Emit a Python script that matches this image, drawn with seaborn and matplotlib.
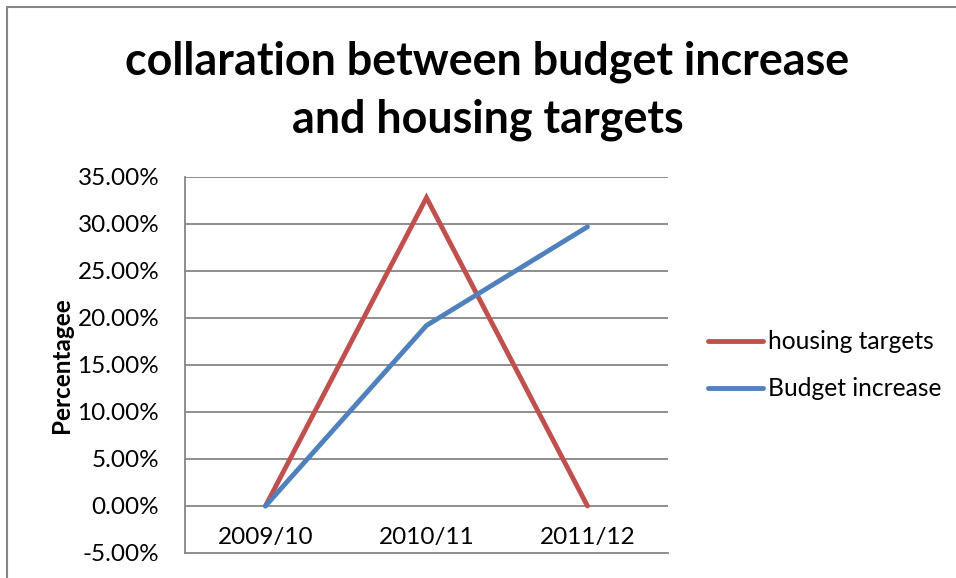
import matplotlib
matplotlib.use("Agg")
import matplotlib.pyplot as plt
import seaborn as sns
import pandas as pd
from matplotlib.lines import Line2D
from matplotlib.ticker import FuncFormatter

categories = ["2009/10", "2010/11", "2011/12"]
housing_targets = [0.0, 0.328, 0.0]
budget_increase = [0.0, 0.192, 0.297]
series_names = ["housing targets", "Budget increase"]
yticks = [-0.05, 0.0, 0.05, 0.10, 0.15, 0.20, 0.25, 0.30, 0.35]

sns.set_theme(style="white")
plt.rcParams['font.family'] = ['Lato', 'DejaVu Sans']
plt.rcParams['text.color'] = 'black'
plt.rcParams['axes.labelcolor'] = 'black'

df = pd.DataFrame({
    "cat": categories * 2,
    "x": list(range(len(categories))) * 2,
    "value": housing_targets + budget_increase,
    "series": [series_names[0]] * 3 + [series_names[1]] * 3,
})

colors = {"housing targets": "#C0504D", "Budget increase": "#4F81BD"}

fig = plt.figure(figsize=(9.56, 5.78), dpi=100)
ax = fig.add_axes([0.1935, 0.0433, 0.5052, 0.6505])

for y in yticks[1:]:
    ax.axhline(y, color="#868686", lw=1.3, zorder=0)

sns.lineplot(data=df, x="x", y="value", hue="series", palette=colors,
             hue_order=series_names, ax=ax, lw=3.5, legend=False,
             solid_capstyle="round", solid_joinstyle="miter")

ax.set_xlim(-0.5, 2.5)
ax.set_ylim(-0.05, 0.35)
ax.set_yticks(yticks)
ax.yaxis.set_major_formatter(FuncFormatter(lambda v, p: f"{v*100:.2f}%"))
ax.set_xticks(range(len(categories)))
ax.set_xticklabels(categories)
ax.tick_params(axis="x", length=0, pad=-3.6, labelsize=17.5, colors="black")
ax.tick_params(axis="y", length=0, pad=18.5, labelsize=17.5, colors="black")
for t in ax.get_xticklabels():
    t.set_verticalalignment("bottom")
ax.set_xlabel("")
ax.set_ylabel("Percentagee", fontsize=17.5, fontweight="bold", color="black")
ax.yaxis.set_label_coords(-0.232, 0.5)

for s in ["top", "right"]:
    ax.spines[s].set_visible(False)
for s in ["left", "bottom"]:
    ax.spines[s].set_color("#868686")
    ax.spines[s].set_linewidth(1.3)

fig.text(0.51, 0.843, "collaration between budget increase\nand housing targets",
         ha="center", va="center", fontsize=32.3, fontweight="bold",
         linespacing=1.45, color="black")

handles = [Line2D([0], [0], color=colors[n], lw=3.5, solid_capstyle="round")
           for n in series_names]
fig.legend(handles, series_names, loc="center left",
           bbox_to_anchor=(0.730, 0.368), frameon=False, fontsize=17.7,
           handlelength=2.24, handletextpad=0.2, labelspacing=0.98,
           borderaxespad=0, borderpad=0.4)

# chart border (top and left visible)
fig.add_artist(Line2D([0.0073, 0.0073], [0, 0.988], color="#868686", lw=1.5,
                      transform=fig.transFigure))
fig.add_artist(Line2D([0.0073, 1.0], [0.988, 0.988], color="#868686", lw=1.5,
                      transform=fig.transFigure))

fig.savefig("out.png", dpi=100)
